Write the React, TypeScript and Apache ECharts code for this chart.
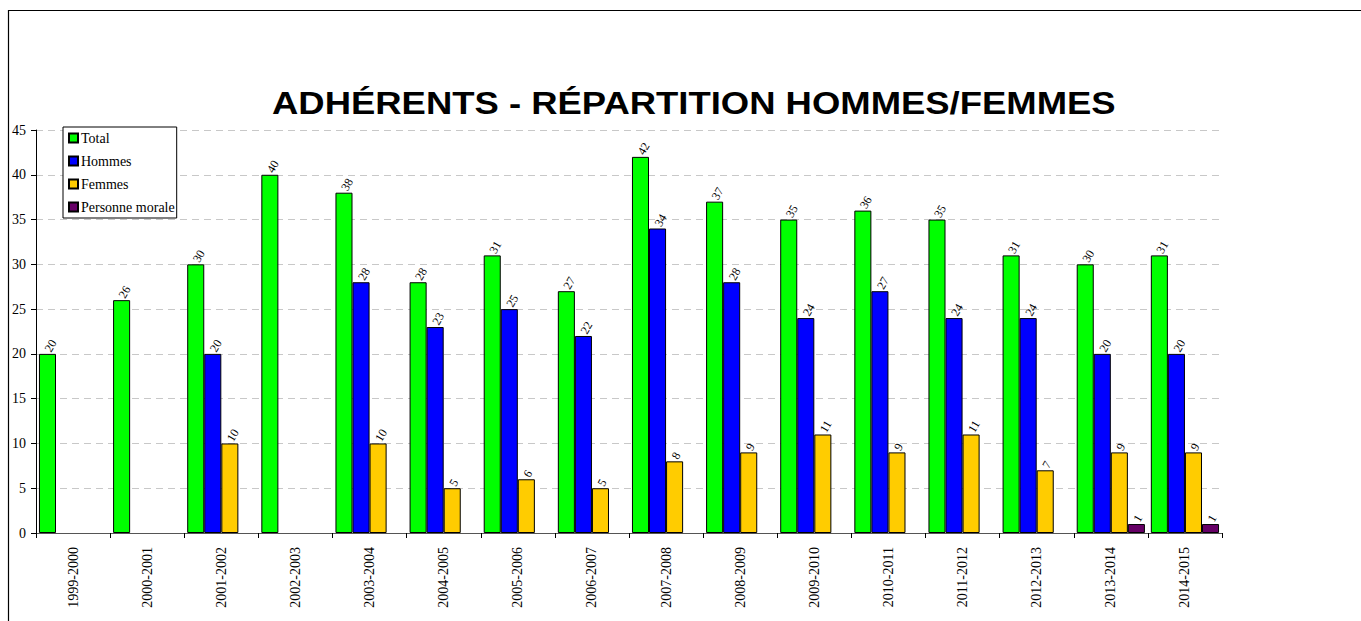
import React, { useEffect, useRef } from "react";
import * as echarts from "echarts";

const categories = [
  "1999-2000", "2000-2001", "2001-2002", "2002-2003", "2003-2004", "2004-2005",
  "2005-2006", "2006-2007", "2007-2008", "2008-2009", "2009-2010", "2010-2011",
  "2011-2012", "2012-2013", "2013-2014", "2014-2015",
];
const total = [20, 26, 30, 40, 38, 28, 31, 27, 42, 37, 35, 36, 35, 31, 30, 31];
const hommes = ["-", "-", 20, "-", 28, 23, 25, 22, 34, 28, 24, 27, 24, 24, 20, 20];
const femmes = ["-", "-", 10, "-", 10, 5, 6, 5, 8, 9, 11, 9, 11, 7, 9, 9];
const personneMorale = ["-", "-", "-", "-", "-", "-", "-", "-", "-", "-", "-", "-", "-", "-", 1, 1];
const titleText = "ADHÉRENTS - RÉPARTITION HOMMES/FEMMES";

const serif = "'Liberation Serif', 'Times New Roman', serif";

export default function App() {
  const ref = useRef<HTMLDivElement>(null);
  useEffect(() => {
    const chart = echarts.init(ref.current!, null, { renderer: "svg" });
    const label = {
      show: true,
      position: "top",
      rotate: 60,
      align: "left",
      verticalAlign: "middle",
      distance: 3,
      fontFamily: serif,
      fontSize: 12,
      color: "#000",
    };
    const mk = (name: string, data: any[], color: string) => ({
      name,
      type: "bar",
      data,
      barGap: "0%",
      barCategoryGap: "8%",
      itemStyle: { color, borderColor: "#000", borderWidth: 1 },
      label,
    });
    chart.setOption({
      animation: false,
      backgroundColor: "#fff",
      legend: {
        orient: "vertical",
        left: 63,
        top: 127,
        backgroundColor: "#fff",
        borderColor: "#000",
        borderWidth: 1,
        padding: [4, 2, 4, 5],
        itemWidth: 9,
        itemHeight: 9,
        itemGap: 9,
        icon: "rect",
        textStyle: { fontFamily: serif, fontSize: 14, color: "#000", lineHeight: 14, padding: [0, 0, 0, -2] },
      },
      grid: { left: 36, right: 139, top: 130, bottom: 88 },
      xAxis: {
        type: "category",
        data: categories,
        axisLine: { lineStyle: { color: "#555", width: 1 } },
        axisTick: { show: true, length: 5, lineStyle: { color: "#000" } },
        axisLabel: {
          rotate: 90,
          margin: 14,
          fontFamily: serif,
          fontSize: 14,
          color: "#000",
          interval: 0,
        },
      },
      yAxis: {
        type: "value",
        min: 0,
        max: 45,
        interval: 5,
        axisLine: { show: true, lineStyle: { color: "#000", width: 1 } },
        axisTick: { show: true, length: 5, lineStyle: { color: "#000" } },
        axisLabel: { fontFamily: serif, fontSize: 14, color: "#000", margin: 10 },
        splitLine: { lineStyle: { color: "#c8c8c8", type: [7, 5] } },
      },
      graphic: [
        {
          type: "text",
          x: 272,
          y: 88,
          scaleX: 1.176,
          style: {
            text: titleText,
            font: "bold 31px 'Liberation Sans', Arial, sans-serif",
            fill: "#000",
            textAlign: "left",
            textVerticalAlign: "top",
          },
        },
        {
          type: "rect",
          shape: { x: 8.5, y: 10.5, width: 2000, height: 2000 },
          style: { fill: "none", stroke: "#000", lineWidth: 1.2 },
          z: 100,
        },
      ],
      series: [
        mk("Total", total, "#00ff00"),
        mk("Hommes", hommes, "#0000ff"),
        mk("Femmes", femmes, "#ffcc00"),
        mk("Personne morale", personneMorale, "#660066"),
      ],
    });
    return () => chart.dispose();
  }, []);
  return (
    <div
      ref={ref}
      style={{ position: "fixed", left: 0, top: 0, width: 1361, height: 621 }}
    />
  );
}
